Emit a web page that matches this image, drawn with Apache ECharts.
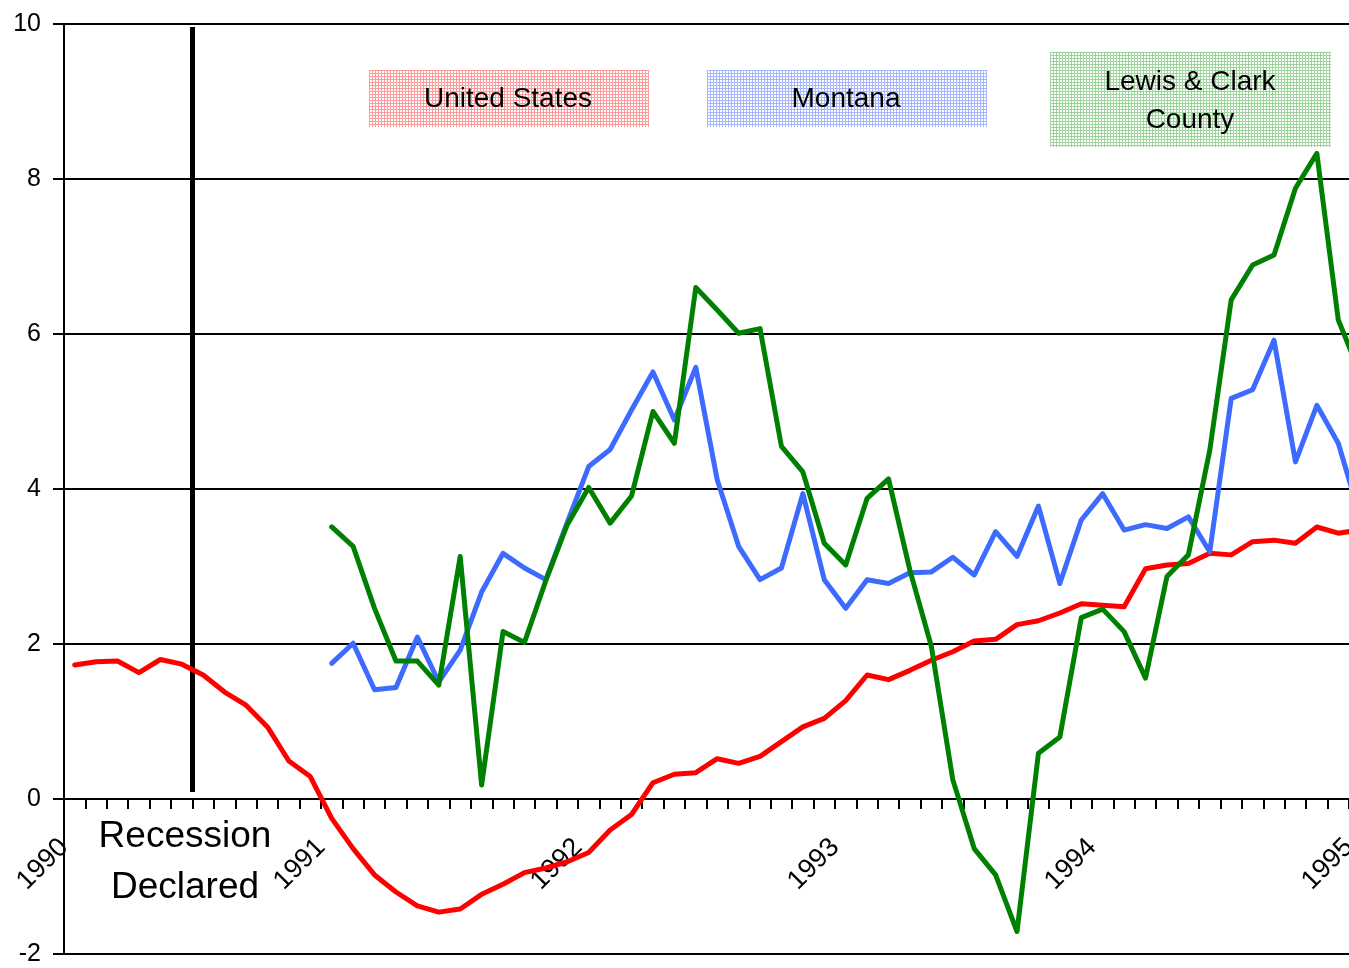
<!DOCTYPE html>
<html>
<head>
<meta charset="utf-8">
<title>Employment growth</title>
<script src="https://cdn.jsdelivr.net/npm/echarts@6/dist/echarts.min.js"></script>
<style>
  html, body { margin: 0; padding: 0; background: #fff; }
  #chart { width: 1349px; height: 968px; }
</style>
</head>
<body>
<div id="chart"></div>
<script>
// monthly, Jan 1990 .. Jan 1995
const months = [];
for (let y = 1990; y <= 1995; y++) {
  for (let m = 1; m <= 12; m++) {
    if (y === 1995 && m > 1) break;
    months.push(y + '-' + (m < 10 ? '0' + m : m));
  }
}
const usData = [1.73, 1.77, 1.78, 1.63, 1.80, 1.74, 1.60, 1.38, 1.21, 0.93, 0.49, 0.29,
  -0.25, -0.64, -0.98, -1.20, -1.38, -1.46, -1.42, -1.23, -1.10, -0.95, -0.89, -0.81,
  -0.69, -0.40, -0.20, 0.21, 0.32, 0.34, 0.52, 0.46, 0.55, 0.74, 0.93, 1.04,
  1.27, 1.60, 1.54, 1.66, 1.79, 1.90, 2.04, 2.06, 2.25, 2.30, 2.40, 2.52,
  2.50, 2.48, 2.97, 3.02, 3.04, 3.17, 3.15, 3.32, 3.34, 3.30, 3.51, 3.43,
  3.47];
const montanaData = [null, null, null, null, null, null, null, null, null, null, null, null,
  1.75, 2.01, 1.41, 1.44, 2.09, 1.51, 1.92, 2.67, 3.17, 2.98, 2.83, 3.57,
  4.29, 4.51, 5.02, 5.51, 4.89, 5.57, 4.12, 3.26, 2.83, 2.98, 3.94, 2.83,
  2.46, 2.83, 2.78, 2.92, 2.93, 3.12, 2.89, 3.45, 3.13, 3.78, 2.78, 3.60,
  3.94, 3.47, 3.54, 3.49, 3.64, 3.19, 5.17, 5.28, 5.92, 4.35, 5.08, 4.59,
  3.66];
const lcData = [null, null, null, null, null, null, null, null, null, null, null, null,
  3.51, 3.26, 2.46, 1.78, 1.78, 1.47, 3.13, 0.18, 2.16, 2.02, 2.82, 3.54,
  4.02, 3.56, 3.91, 5.00, 4.59, 6.60, 6.31, 6.01, 6.07, 4.55, 4.22, 3.30,
  3.02, 3.88, 4.13, 2.95, 1.97, 0.25, -0.64, -0.98, -1.71, 0.59, 0.80, 2.34,
  2.45, 2.16, 1.56, 2.87, 3.15, 4.50, 6.44, 6.89, 7.02, 7.88, 8.33, 6.18,
  5.50];
const yearTicks = [0, 12, 24, 36, 48, 60];
const yearLabels = ['1990', '1991', '1992', '1993', '1994', '1995'];
// recession declared: start of month 7 of 1990
const recessionLine = [[6, 9.96], [6, 0.09]];

const FONT = "'Liberation Sans', Arial, sans-serif";

function makePattern(color) {
  const c = document.createElement('canvas');
  c.width = 3; c.height = 3;
  const ctx = c.getContext('2d');
  ctx.fillStyle = color;
  ctx.fillRect(0, 0, 3, 3);
  ctx.fillStyle = '#ffffff';
  ctx.fillRect(1, 1, 2, 2);
  return { image: c, repeat: 'repeat' };
}

const chart = echarts.init(document.getElementById('chart'));
const option = {
  animation: false,
  backgroundColor: '#fff',
  // plot runs one month past the picture's right edge
  grid: { left: 64, top: 24, right: -21.4, bottom: 14, containLabel: false, outerBoundsMode: 'none' },
  xAxis: [{
    type: 'category',
    data: months,
    boundaryGap: true,
    axisLine: { onZero: true, lineStyle: { color: '#000', width: 2 } },
    axisTick: { show: true, interval: 0, length: 10, lineStyle: { color: '#000', width: 2 } },
    axisLabel: { show: false },
    splitLine: { show: false }
  }, {
    type: 'value',
    position: 'bottom',
    offset: -155,
    min: 0,
    max: 61,
    interval: 12,
    axisLine: { show: false },
    axisTick: { show: false },
    splitLine: { show: false },
    axisLabel: {
      rotate: 45,
      margin: 44,
      color: '#000',
      fontSize: 27,
      fontFamily: FONT,
      showMaxLabel: false,
      formatter: function (v) {
        const i = yearTicks.indexOf(v);
        return i >= 0 ? yearLabels[i] : '';
      }
    }
  }],
  yAxis: {
    type: 'value',
    min: -2,
    max: 10,
    interval: 2,
    axisLine: { show: true, lineStyle: { color: '#000', width: 2 } },
    axisTick: { show: true, length: 11, lineStyle: { color: '#000', width: 2 } },
    axisLabel: { color: '#000', fontSize: 25, fontFamily: FONT, margin: 23 },
    splitLine: { show: true, lineStyle: { color: '#000', width: 2 } }
  },
  series: [{
    name: 'United States',
    type: 'line',
    data: usData,
    showSymbol: false,
    lineStyle: { color: '#ff0000', width: 5, cap: 'round', join: 'round' },
    itemStyle: { color: '#ff0000' }
  }, {
    name: 'Montana',
    type: 'line',
    data: montanaData,
    showSymbol: false,
    lineStyle: { color: '#3d6bff', width: 5, cap: 'round', join: 'round' },
    itemStyle: { color: '#3d6bff' }
  }, {
    name: 'Lewis & Clark County',
    type: 'line',
    data: lcData,
    showSymbol: false,
    lineStyle: { color: '#008000', width: 5, cap: 'round', join: 'round' },
    itemStyle: { color: '#008000' }
  }, {
    name: 'Recession',
    type: 'line',
    xAxisIndex: 1,
    data: recessionLine,
    showSymbol: false,
    lineStyle: { color: '#000', width: 5 },
    z: 1
  }],
  graphic: [
    { type: 'rect', x: 369, y: 70, shape: { width: 280, height: 57 }, style: { fill: makePattern('#ff9a9a') }, silent: true },
    { type: 'text', x: 508, y: 99, style: { text: 'United States', align: 'center', verticalAlign: 'middle', textAlign: 'center', textVerticalAlign: 'middle', font: '28px ' + FONT, fill: '#000' } },
    { type: 'rect', x: 707, y: 70, shape: { width: 280, height: 57 }, style: { fill: makePattern('#a6b6ff') }, silent: true },
    { type: 'text', x: 846, y: 99, style: { text: 'Montana', align: 'center', verticalAlign: 'middle', textAlign: 'center', textVerticalAlign: 'middle', font: '28px ' + FONT, fill: '#000' } },
    { type: 'rect', x: 1050, y: 52, shape: { width: 281, height: 95 }, style: { fill: makePattern('#9fd49f') }, silent: true },
    { type: 'text', x: 1190, y: 101, style: { text: 'Lewis & Clark\nCounty', align: 'center', verticalAlign: 'middle', textAlign: 'center', textVerticalAlign: 'middle', font: '28px ' + FONT, lineHeight: 38, fill: '#000' } },
    { type: 'text', x: 185, y: 862, style: { text: 'Recession\nDeclared', align: 'center', verticalAlign: 'middle', textAlign: 'center', textVerticalAlign: 'middle', font: '37px ' + FONT, lineHeight: 51, fill: '#000' } }
  ]
};
chart.setOption(option);
</script>
</body>
</html>
